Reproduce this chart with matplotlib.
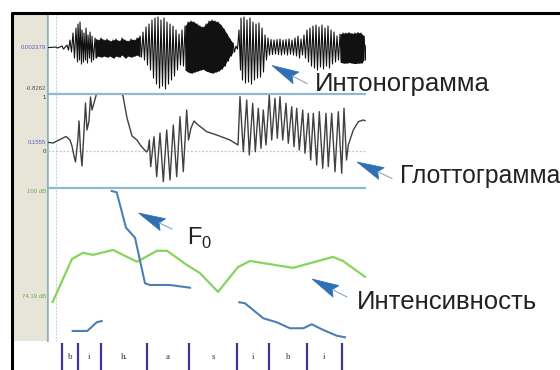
import numpy as np
import matplotlib
matplotlib.use('Agg')
import matplotlib.pyplot as plt
from matplotlib.patches import Polygon, Rectangle

W, H = 560, 370
plt.rcParams['font.family'] = ['Liberation Sans', 'DejaVu Sans']
plt.rcParams['mathtext.fontset'] = 'custom'
plt.rcParams['mathtext.rm'] = 'Liberation Sans'

# ---------------- data ----------------
# waveform envelope (time s, upper / lower amplitude)
wave_t = [0.0, 0.04, 0.07, 0.095, 0.11, 0.125, 0.14, 0.15, 0.16, 0.17, 0.18, 0.19, 0.20, 0.21, 0.22,
          0.235, 0.25, 0.265, 0.28, 0.295, 0.31, 0.325, 0.34, 0.355, 0.37, 0.385, 0.40, 0.415, 0.43, 0.445,
          0.46, 0.475, 0.49, 0.505, 0.52, 0.535, 0.55, 0.565, 0.58, 0.595, 0.61, 0.625, 0.64, 0.655, 0.67,
          0.685, 0.70, 0.715, 0.73, 0.745, 0.76, 0.775, 0.79, 0.805, 0.82, 0.835, 0.85, 0.865, 0.88, 0.895,
          0.91, 0.925, 0.94, 0.955, 0.965, 0.98, 0.995, 1.01, 1.025, 1.04, 1.055, 1.07, 1.085, 1.10, 1.115,
          1.13, 1.145, 1.16, 1.175, 1.19, 1.205, 1.22, 1.235, 1.25, 1.265, 1.28, 1.295, 1.31, 1.325, 1.34,
          1.355, 1.37, 1.385, 1.40, 1.415, 1.43, 1.445, 1.46, 1.475, 1.49, 1.505, 1.52, 1.535, 1.55, 1.565,
          1.58, 1.59]
wave_top = [0.0, 0.009, 0.027, 0.045, 0.135, 0.261, 0.351, 0.423, 0.459, 0.315, 0.261, 0.351, 0.225, 0.279, 0.207,
            0.171, 0.135, 0.171, 0.135, 0.153, 0.117, 0.135, 0.153, 0.117, 0.171, 0.135, 0.117, 0.153, 0.135, 0.171,
            0.207, 0.279, 0.369, 0.423, 0.495, 0.531, 0.549, 0.495, 0.531, 0.459, 0.423, 0.387, 0.315, 0.243, 0.315,
            0.387, 0.459, 0.477, 0.459, 0.423, 0.387, 0.369, 0.423, 0.477, 0.495, 0.477, 0.459, 0.405, 0.333, 0.243,
            0.153, 0.081, 0.027, 0.315, 0.531, 0.549, 0.495, 0.531, 0.459, 0.423, 0.441, 0.351, 0.225, 0.171, 0.144,
            0.135, 0.144, 0.153, 0.135, 0.144, 0.153, 0.135, 0.171, 0.207, 0.153, 0.225, 0.315, 0.351, 0.387, 0.405,
            0.369, 0.405, 0.351, 0.387, 0.315, 0.279, 0.207, 0.243, 0.261, 0.261, 0.270, 0.252, 0.261, 0.270, 0.261,
            0.207, 0.045]
wave_bot = [0.0, -0.009, -0.027, -0.045, -0.081, -0.189, -0.261, -0.225, -0.297, -0.261, -0.225, -0.279, -0.189, -0.261, -0.225,
            -0.189, -0.153, -0.171, -0.153, -0.171, -0.153, -0.189, -0.153, -0.171, -0.135, -0.189, -0.153, -0.171, -0.153, -0.135,
            -0.171, -0.225, -0.315, -0.405, -0.549, -0.657, -0.729, -0.693, -0.747, -0.657, -0.585, -0.513, -0.405, -0.315, -0.333,
            -0.405, -0.441, -0.459, -0.441, -0.423, -0.405, -0.387, -0.423, -0.441, -0.459, -0.441, -0.423, -0.387, -0.333, -0.243,
            -0.153, -0.081, -0.027, -0.405, -0.585, -0.639, -0.621, -0.657, -0.585, -0.549, -0.531, -0.441, -0.225, -0.135, -0.126,
            -0.117, -0.126, -0.135, -0.117, -0.135, -0.117, -0.135, -0.153, -0.189, -0.135, -0.189, -0.261, -0.333, -0.369, -0.405,
            -0.351, -0.387, -0.333, -0.369, -0.297, -0.261, -0.225, -0.261, -0.279, -0.279, -0.270, -0.279, -0.288, -0.279, -0.279,
            -0.225, -0.045]
wave_dense = [(0.235, 0.46), (0.685, 0.925), (1.46, 1.58)]

# glottogram
glot_t = [0.0, 0.025, 0.06, 0.09, 0.11, 0.12, 0.13, 0.1375, 0.145, 0.15, 0.155, 0.1625, 0.17, 0.1775, 0.1875,
          0.195, 0.205, 0.2125, 0.22, 0.23, 0.245, 0.26, 0.285, 0.31, 0.34, 0.36, 0.375, 0.395, 0.42, 0.445,
          0.465, 0.4925, 0.5, 0.5065, 0.5135, 0.53, 0.5435, 0.56, 0.5765, 0.5935, 0.61, 0.6265, 0.6435, 0.66,
          0.6765, 0.6935, 0.7025, 0.715, 0.73, 0.745, 0.7935, 0.8435, 0.91, 0.95, 0.96, 0.9765, 0.9935, 1.0065,
          1.0235, 1.0365, 1.0515, 1.065, 1.0765, 1.09, 1.1065, 1.1185, 1.135, 1.1465, 1.16, 1.1735, 1.19, 1.2015,
          1.2185, 1.23, 1.2435, 1.2565, 1.2735, 1.285, 1.3015, 1.3135, 1.3265, 1.3435, 1.3565, 1.3735, 1.39,
          1.4015, 1.4185, 1.435, 1.4515, 1.4685, 1.48, 1.4925, 1.5015, 1.5265, 1.5515, 1.5765, 1.585]
glot_v = [0.155, 0.143, 0.205, 0.259, 0.196, 0.089, -0.089, -0.196, 0.054, 0.232, 0.536, 0.018, -0.268, 0.196, 0.857,
          0.375, 0.536, 0.964, 0.732, 0.857, 1.054, 1.179, 1.268, 1.304, 1.232, 1.089, 0.982, 0.589, 0.268, 0.196,
          0.089, -0.018, 0.018, 0.196, -0.280, 0.255, -0.459, 0.321, -0.548, 0.375, -0.518, 0.464, -0.459, 0.613,
          -0.370, 0.732, 0.196, 0.411, 0.536, 0.482, 0.345, 0.286, 0.196, 0.107, 0.970, -0.013, 0.911, -0.071,
          0.852, -0.013, 0.763, 0.048, 0.732, 0.107, 1.0, 0.196, 0.941, 0.227, 0.970, 0.196, 0.852, 0.138,
          0.791, 0.077, 0.763, 0.018, 0.732, -0.041, 0.673, -0.161, 0.673, -0.250, 0.702, -0.309, 0.673,
          -0.280, 0.673, -0.370, 0.702, -0.398, 0.763, -0.161, 0.107, 0.375, 0.523, 0.554, 0.541]

# intensity (dB)
int_t = [0.023, 0.12, 0.175, 0.225, 0.325, 0.445, 0.545, 0.595, 0.695, 0.76, 0.85, 0.95, 1.01, 1.225, 1.425, 1.475, 1.585]
int_db = [72.7, 83.3, 84.8, 84.3, 85.5, 82.6, 85.3, 85.3, 81.8, 79.8, 75.2, 81.3, 82.8, 81.1, 83.8, 82.8, 78.9]

# F0 (Hz), NaN separates voiced stretches
f0_t = [0.1235, 0.1965, 0.2435, 0.2685, np.nan,
        0.3185, 0.3435, 0.39, 0.435, 0.485, 0.51, 0.61, 0.71, np.nan,
        0.9565, 0.985, 1.0765, 1.1435, 1.21, 1.2765, 1.3185, 1.3765, 1.4435, 1.485]
f0_hz = [99.0, 99.0, 117.3, 120.0, np.nan,
         393.7, 390.9, 316.4, 295.4, 199.4, 195.8, 195.8, 190.1, np.nan,
         159.4, 157.3, 125.7, 117.3, 104.7, 104.7, 113.1, 101.1, 89.1, 85.7]

# segmentation
seg_bounds = [0.07, 0.15, 0.265, 0.495, 0.705, 0.945, 1.105, 1.295, 1.47]
seg_labels = ['b', 'i', 'h.', 'a', 's', 'i', 'b', 'i']

# ---------------- figure ----------------
fig = plt.figure(figsize=(W / 100, H / 100), dpi=100)
fig.patch.set_facecolor('white')


def rect(x0, y0, x1, y1):
    return [x0 / W, 1 - y1 / H, (x1 - x0) / W, (y1 - y0) / H]


bg = fig.add_axes([0, 0, 1, 1], zorder=0)
bg.set_xlim(0, W)
bg.set_ylim(H, 0)
bg.axis('off')

# beige side panel
bg.add_patch(Rectangle((12, 13), 35.5, 328, facecolor='#e7e5d8', edgecolor='none'))
bg.plot([46.5, 46.5], [13, 341], color='#9a9a9a', lw=0.8)
bg.plot([47.8, 47.8], [13, 341], color='#8fb8c0', lw=1.2)
bg.plot([55.5, 55.5], [13, 341], color='#c9d6e0', lw=0.8, ls=(0, (2, 1)))
# black frame
bg.plot([11, W], [12.5, 12.5], color='black', lw=2.2, solid_capstyle='butt')
bg.plot([11.5, 11.5], [12, H], color='black', lw=2.2, solid_capstyle='butt')
# panel separators
for yy in (94.3, 187.6):
    bg.plot([48, 366], [yy, yy], color='#8fb9cc', lw=1.6, solid_capstyle='butt')

lab_kw = dict(ha='right', va='center', fontsize=4.3)
bg.text(46, 47.5, '0.002379', color='#5b5bc0', **lab_kw)
bg.text(46, 88.5, '-0.8262', color='#555555', **lab_kw)
bg.text(46, 97.5, '1', color='#333333', **lab_kw)
bg.text(46, 143, '0.1555', color='#5b5bc0', **lab_kw)
bg.text(46, 151.5, '0', color='#333333', **lab_kw)
bg.text(46, 191.5, '100 dB', color='#6aa84f', **lab_kw)
bg.text(46, 296.5, '74.19 dB', color='#6aa84f', **lab_kw)

T0, T1 = 0.0, 1.59

# waveform
axw = fig.add_axes(rect(48, 14, 366, 93.5), zorder=1)
axw.patch.set_alpha(0)
axw.set_xlim(T0, T1)
axw.set_ylim(-0.8262, 0.603)
axw.axis('off')
wt = np.asarray(wave_t)
zx = np.column_stack([wt, wt + 0.0075]).ravel()
zy = np.column_stack([wave_top, wave_bot]).ravel()
axw.plot(zx, zy, color='#111111', lw=0.8)
for a, b in wave_dense:
    m = (wt >= a) & (wt <= b)
    axw.fill_between(wt[m], np.asarray(wave_bot)[m], np.asarray(wave_top)[m], color='#111111', lw=0)

# glottogram
axg = fig.add_axes(rect(48, 95, 366, 187), zorder=1)
axg.patch.set_alpha(0)
axg.set_xlim(T0, T1)
axg.set_ylim(-0.643, 1.0)
axg.axis('off')
axg.axhline(0, color='#a9cbe3', lw=0.9, ls=(0, (1.5, 1.5)))
axg.plot(glot_t, glot_v, color='#404040', lw=1.0)

# intensity + F0
axi = fig.add_axes(rect(48, 188, 366, 340), zorder=1)
axi.patch.set_alpha(0)
axi.set_xlim(T0, T1)
axi.set_ylim(63.37, 100.74)
axi.axis('off')
axi.plot(int_t, int_db, color='#86d45e', lw=1.6)
axf = axi.twinx()
axf.set_ylim(80, 400)
axf.axis('off')
axf.plot(f0_t, f0_hz, color='#4c80b2', lw=1.5)

# segmentation tier
axs = fig.add_axes(rect(48, 342, 366, 370), zorder=1)
axs.patch.set_alpha(0)
axs.set_xlim(T0, T1)
axs.set_ylim(0, 1)
axs.axis('off')
axs.vlines(seg_bounds, 0, 0.95, color='#3e3593', lw=1.6)
for i, lab in enumerate(seg_labels):
    axs.text((seg_bounds[i] + seg_bounds[i + 1]) / 2, 0.45, lab, ha='center', va='center',
             fontsize=6.5, family='Liberation Serif', color='#333333')

# annotations overlay
top = fig.add_axes([0, 0, 1, 1], zorder=5)
top.patch.set_alpha(0)
top.set_xlim(0, W)
top.set_ylim(H, 0)
top.axis('off')


def arrow(tip, tail, L=27, w=13):
    tip = np.array(tip, float)
    tail = np.array(tail, float)
    d = (tail - tip) / np.hypot(*(tail - tip))
    n = np.array([-d[1], d[0]])
    base = tip + d * L
    notch = tip + d * L * 0.85
    top.add_patch(Polygon([tip, base + n * w / 2, notch, base - n * w / 2], closed=True,
                          facecolor='#2f6fb3', edgecolor='#2f6fb3', lw=0.5))
    top.plot([notch[0], tail[0]], [notch[1], tail[1]], color='#8aa6bd', lw=0.8)


arrow((272, 65.5), (307, 83.5))
arrow((357, 162), (392, 178.5))
arrow((138.5, 213), (172, 229))
arrow((312, 279), (347, 297))

tkw = dict(color='#222222', va='baseline', ha='left')
top.text(315, 91, 'Интонограмма', fontsize=18.5, **tkw)
top.text(400, 183.5, 'Глоттограмма', fontsize=17.8, **tkw)
top.text(357, 309, 'Интенсивность', fontsize=18.5, **tkw)
top.text(187, 245, r'F$_{\mathrm{0}}$', fontsize=17, **tkw)

fig.savefig('out.png', dpi=100)
